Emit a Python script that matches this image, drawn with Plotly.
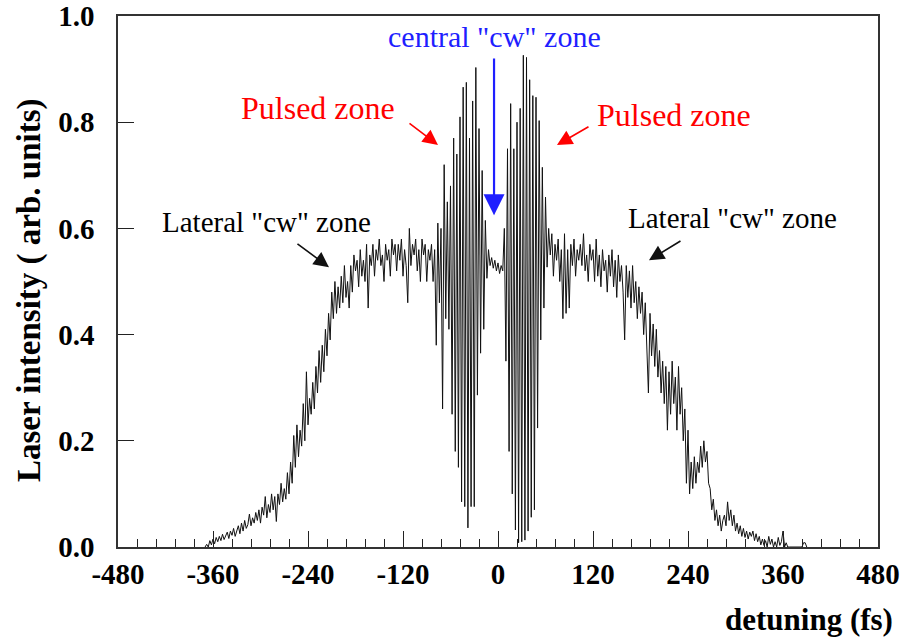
import plotly.graph_objects as go

# Detuning grid (fs) and measured laser intensity (arb. units)
detuning_start = -370
detuning_step = 2

# wing on the negative side, -370 ... -84 fs
left_wing = [
    0.000, 0.005, 0.000, 0.012, 0.004, 0.015, 0.006, 0.018, 0.010, 0.020,
    0.012, 0.024, 0.014, 0.020, 0.028, 0.016, 0.030, 0.022, 0.035, 0.020,
    0.032, 0.040, 0.025, 0.045, 0.030, 0.050, 0.035, 0.042, 0.062, 0.040,
    0.055, 0.045, 0.065, 0.050, 0.070, 0.045, 0.075, 0.060, 0.095, 0.055,
    0.080, 0.065, 0.100, 0.070, 0.095, 0.048, 0.100, 0.080, 0.120, 0.085,
    0.110, 0.090, 0.140, 0.100, 0.160, 0.120, 0.210, 0.150, 0.230, 0.170,
    0.220, 0.190, 0.270, 0.200, 0.330, 0.230, 0.280, 0.250, 0.310, 0.260,
    0.340, 0.290, 0.370, 0.310, 0.380, 0.330, 0.410, 0.360, 0.440, 0.390,
    0.480, 0.430, 0.500, 0.440, 0.490, 0.450, 0.510, 0.460, 0.530, 0.470,
    0.500, 0.450, 0.530, 0.480, 0.550, 0.520, 0.540, 0.490, 0.560, 0.510,
    0.540, 0.500, 0.570, 0.450, 0.550, 0.530, 0.570, 0.510, 0.560, 0.540,
    0.580, 0.530, 0.550, 0.500, 0.570, 0.540, 0.560, 0.510, 0.580, 0.550,
    0.570, 0.520, 0.570, 0.540, 0.580, 0.510, 0.560, 0.530, 0.460, 0.600,
    0.530, 0.570, 0.550, 0.580, 0.520, 0.560, 0.500, 0.580, 0.550, 0.570,
    0.500, 0.560, 0.540, 0.570,
]

# pulsed zones around the central "cw" zone, -82 ... 64 fs
pulsed_core = [
    0.500, 0.560, 0.380, 0.610, 0.460, 0.600, 0.260, 0.720, 0.430, 0.650,
    0.410, 0.680, 0.250, 0.770, 0.180, 0.740, 0.150, 0.810, 0.085, 0.866,
    0.076, 0.875, 0.036, 0.770, 0.076, 0.840, 0.076, 0.903, 0.286, 0.788,
    0.365, 0.709, 0.410, 0.615, 0.506, 0.560, 0.530, 0.545, 0.525, 0.540,
    0.520, 0.535, 0.515, 0.530, 0.520, 0.600, 0.350, 0.750, 0.180, 0.835,
    0.100, 0.750, 0.032, 0.800, 0.008, 0.826, 0.010, 0.926, 0.013, 0.922,
    0.030, 0.880, 0.056, 0.850, 0.070, 0.847, 0.224, 0.803, 0.390, 0.715,
    0.450, 0.659, 0.527, 0.600,
]

# wing on the positive side, 66 ... 390 fs
right_wing = [
    0.550, 0.590, 0.510, 0.570, 0.540, 0.580, 0.500, 0.560, 0.430, 0.590,
    0.440, 0.560, 0.450, 0.570, 0.530, 0.580, 0.510, 0.560, 0.540, 0.570,
    0.530, 0.590, 0.520, 0.550, 0.500, 0.570, 0.540, 0.560, 0.500, 0.580,
    0.510, 0.550, 0.490, 0.560, 0.520, 0.540, 0.480, 0.550, 0.510, 0.560,
    0.490, 0.540, 0.470, 0.550, 0.500, 0.530, 0.480, 0.390, 0.530, 0.470,
    0.520, 0.450, 0.530, 0.460, 0.500, 0.430, 0.490, 0.440, 0.480, 0.400,
    0.460, 0.380, 0.290, 0.440, 0.360, 0.420, 0.340, 0.410, 0.320, 0.370,
    0.290, 0.350, 0.270, 0.340, 0.220, 0.330, 0.250, 0.350, 0.270, 0.320,
    0.220, 0.340, 0.250, 0.300, 0.200, 0.260, 0.120, 0.220, 0.100, 0.160,
    0.110, 0.170, 0.120, 0.160, 0.140, 0.190, 0.150, 0.200, 0.160, 0.180,
    0.120, 0.110, 0.070, 0.090, 0.050, 0.070, 0.040, 0.060, 0.030, 0.050,
    0.060, 0.040, 0.085, 0.050, 0.070, 0.040, 0.060, 0.030, 0.045, 0.025,
    0.040, 0.020, 0.035, 0.018, 0.030, 0.015, 0.028, 0.020, 0.030, 0.012,
    0.025, 0.010, 0.020, 0.004, 0.015, 0.003, 0.012, 0.000, 0.020, 0.005,
    0.015, 0.000, 0.010, 0.000, 0.018, 0.003, 0.010, 0.030, 0.000, 0.008,
    0.000, 0.000, 0.000, 0.000, 0.000, 0.000, 0.000, 0.000, 0.000, 0.000,
    0.008, 0.008, 0.000,
]

intensity = left_wing + pulsed_core + right_wing
detuning = [detuning_start + detuning_step * i for i in range(len(intensity))]

x_ticks = [-480, -360, -240, -120, 0, 120, 240, 360, 480]
x_tick_labels = ["-480", "-360", "-240", "-120", "0", "120", "240", "360", "480"]
y_ticks = [0.0, 0.2, 0.4, 0.6, 0.8, 1.0]
y_tick_labels = ["0.0", "0.2", "0.4", "0.6", "0.8", "1.0"]

SERIF = "Liberation Serif, Times New Roman, serif"
W, H = 903, 641
ML, MR, MT, MB = 118, 25, 16, 94
PW, PH = W - ML - MR, H - MT - MB


def px(xp):
    return (xp - ML) / PW


def py(yp):
    return (H - MB - yp) / PH


fig = go.Figure()
fig.add_trace(go.Scatter(
    x=detuning, y=intensity, mode="lines",
    line=dict(color="#111111", width=1),
    hoverinfo="skip", showlegend=False,
))

axis_common = dict(
    showgrid=False, zeroline=False, showline=True, mirror=True,
    linecolor="#333333", linewidth=1.5,
    ticks="inside", ticklen=16, tickwidth=1, tickcolor="#222222",
    tickfont=dict(family=SERIF, size=29, color="black", weight="bold"),
)

fig.update_xaxes(
    range=[-480, 480], tickvals=x_ticks, ticktext=x_tick_labels,
    minor=dict(dtick=24, tick0=0, ticks="inside", ticklen=8, tickcolor="#222222"),
    ticklabelstandoff=0,
    **axis_common,
)
fig.update_yaxes(
    range=[0, 1.0], tickvals=y_ticks, ticktext=y_tick_labels,
    ticklabelstandoff=16,
    **axis_common,
)

annotations = [
    # axis titles
    dict(text="<b>Laser intensity ( arb. units)</b>", x=px(29), y=py(290),
         textangle=-90, font=dict(size=33, color="black")),
    dict(text="<b>detuning (fs)</b>", x=px(895), y=py(619), xanchor="right",
         font=dict(size=31, color="black")),
    # zone labels
    dict(text='central "cw" zone', x=px(494), y=py(37),
         font=dict(size=30, color="#1f1fff")),
    dict(text="Pulsed zone", x=px(318), y=py(108),
         font=dict(size=32, color="#ff0000")),
    dict(text="Pulsed zone", x=px(674), y=py(115),
         font=dict(size=32, color="#ff0000")),
    dict(text='Lateral "cw" zone', x=px(266), y=py(222),
         font=dict(size=29, color="black")),
    dict(text='Lateral "cw" zone', x=px(732), y=py(218),
         font=dict(size=29, color="black")),
]
for a in annotations:
    a.setdefault("xanchor", "center")
    a.update(xref="paper", yref="paper", yanchor="middle", showarrow=False)
    a["font"].setdefault("family", SERIF)
    fig.add_annotation(**a)

# arrows pointing into the zones: (tip fs, tip intensity, tail fs, tail intensity, colour, width, size)
arrows = [
    (-5.0, 0.625, -5.0, 0.923, "#1f1fff", 2.2, 1.9),
    (-75.8, 0.757, -113.7, 0.800, "#ff0000", 1.6, 1.9),
    (74.5, 0.757, 116.2, 0.793, "#ff0000", 1.6, 1.9),
    (-213.5, 0.527, -255.2, 0.573, "#111111", 1.6, 1.9),
    (190.7, 0.540, 232.4, 0.578, "#111111", 1.6, 1.9),
]
for tx, ty, sx, sy, col, wd, sz in arrows:
    fig.add_annotation(
        x=tx, y=ty, ax=sx, ay=sy, xref="x", yref="y", axref="x", ayref="y",
        text="", showarrow=True, arrowhead=2, arrowsize=sz,
        arrowwidth=wd, arrowcolor=col,
    )

fig.update_layout(
    width=W, height=H,
    margin=dict(l=ML, r=MR, t=MT, b=MB, autoexpand=False),
    paper_bgcolor="white", plot_bgcolor="white",
    font=dict(family=SERIF, color="black"),
)

fig.write_html("out.html")
